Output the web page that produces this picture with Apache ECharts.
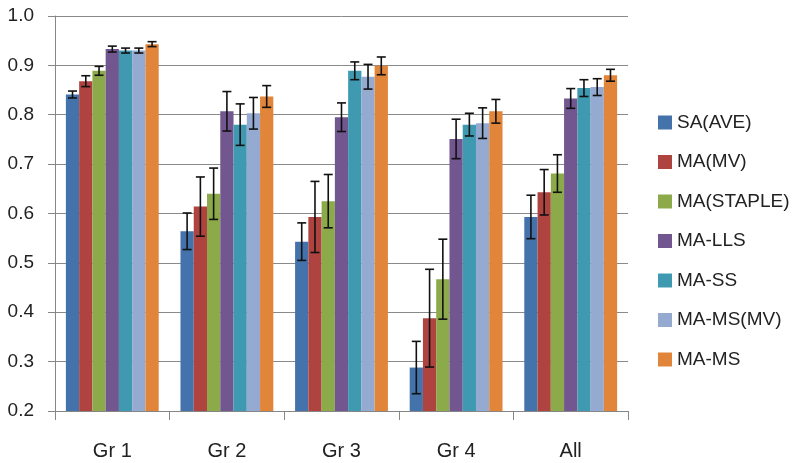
<!DOCTYPE html>
<html><head><meta charset="utf-8">
<script src="https://cdn.jsdelivr.net/npm/echarts@6/dist/echarts.min.js"></script>
<style>html,body{margin:0;padding:0;background:#fff}#c{width:800px;height:463px}</style>
</head><body><div id="c"></div>
<script>
const categories = ['Gr 1', 'Gr 2', 'Gr 3', 'Gr 4', 'All'];
const seriesNames = ['SA(AVE)', 'MA(MV)', 'MA(STAPLE)', 'MA-LLS', 'MA-SS', 'MA-MS(MV)', 'MA-MS'];
const colors = ['#4472AA', '#AE4340', '#8CAA4A', '#72568F', '#3F9AB1', '#94AAD0', '#E0853A'];
const SA_AVE      = [0.841, 0.564, 0.543, 0.288, 0.593];
const MA_MV       = [0.868, 0.614, 0.593, 0.388, 0.643];
const MA_STAPLE   = [0.889, 0.640, 0.625, 0.467, 0.681];
const MA_LLS      = [0.933, 0.807, 0.795, 0.751, 0.833];
const MA_SS       = [0.930, 0.780, 0.889, 0.780, 0.854];
const MA_MS_MV    = [0.930, 0.803, 0.877, 0.783, 0.856];
const MA_MS       = [0.943, 0.837, 0.899, 0.807, 0.880];
const ERR_SA_AVE    = [0.007, 0.037, 0.038, 0.053, 0.044];
const ERR_MA_MV     = [0.011, 0.060, 0.072, 0.099, 0.046];
const ERR_MA_STAPLE = [0.009, 0.052, 0.054, 0.081, 0.038];
const ERR_MA_LLS    = [0.006, 0.040, 0.029, 0.040, 0.020];
const ERR_MA_SS     = [0.005, 0.042, 0.018, 0.023, 0.017];
const ERR_MA_MS_MV  = [0.005, 0.032, 0.025, 0.031, 0.017];
const ERR_MA_MS     = [0.005, 0.022, 0.018, 0.024, 0.012];
const yTicks = [0.2, 0.3, 0.4, 0.5, 0.6, 0.7, 0.8, 0.9, 1.0];

const values = [SA_AVE, MA_MV, MA_STAPLE, MA_LLS, MA_SS, MA_MS_MV, MA_MS];
const errors = [ERR_SA_AVE, ERR_MA_MV, ERR_MA_STAPLE, ERR_MA_LLS, ERR_MA_SS, ERR_MA_MS_MV, ERR_MA_MS];
const GAP = 0.19;
const N = seriesNames.length;
const FONT = '"Liberation Sans", Arial, sans-serif';

const barSeries = seriesNames.map((name, i) => ({
  name, type: 'bar', data: values[i], barGap: 0, barCategoryGap: (GAP*100)+'%',
  itemStyle: {color: colors[i]}, z: 2
}));

const errData = [];
values.forEach((arr, s) => arr.forEach((v, c) => {
  errData.push([c, v - errors[s][c], v + errors[s][c], s]);
}));

const errSeries = {
  type: 'custom', name: 'err', data: errData, z: 5, silent: true,
  encode: {x: 0, y: [1, 2]},
  renderItem(params, api) {
    const c = api.value(0), lo = api.value(1), hi = api.value(2), s = api.value(3);
    const band = api.size([1, 0])[0];
    const bw = band * (1 - GAP) / N;
    const center = api.coord([c, lo]);
    const x = center[0] - band * (1 - GAP) / 2 + bw * (s + 0.5);
    const yLo = center[1], yHi = api.coord([c, hi])[1];
    const cap = 4.5;
    const st = {stroke: '#111', lineWidth: 1.6};
    return {type: 'group', children: [
      {type: 'line', shape: {x1: x, y1: yLo, x2: x, y2: yHi}, style: st},
      {type: 'line', shape: {x1: x - cap, y1: yLo, x2: x + cap, y2: yLo}, style: st},
      {type: 'line', shape: {x1: x - cap, y1: yHi, x2: x + cap, y2: yHi}, style: st}
    ]};
  }
};

const chart = echarts.init(document.getElementById('c'), null, {renderer: 'canvas'});
chart.setOption({
  animation: false,
  grid: {left: 55, right: 172, top: 16, bottom: 52},
  legend: {
    orient: 'vertical', left: 653, top: 108, itemWidth: 14, itemHeight: 14, itemGap: 20.5,
    icon: 'rect', data: seriesNames,
    textStyle: {fontFamily: FONT, fontSize: 19, color: '#222', padding: [0,0,0,0]}
  },
  xAxis: {
    type: 'category', data: categories,
    axisLine: {lineStyle: {color: '#868686', width: 1}},
    axisTick: {show: true, length: 9, lineStyle: {color: '#868686'}},
    axisLabel: {fontFamily: FONT, fontSize: 20, color: '#222', margin: 30}
  },
  yAxis: {
    type: 'value', min: yTicks[0], max: yTicks[yTicks.length-1], interval: 0.1,
    axisLine: {show: true, lineStyle: {color: '#868686'}},
    axisTick: {show: true, length: 7, lineStyle: {color: '#868686'}},
    splitLine: {lineStyle: {color: '#8a8a8a', width: 1}},
    axisLabel: {fontFamily: FONT, fontSize: 19, color: '#222', margin: 21,
      formatter: v => v.toFixed(1)}
  },
  series: [...barSeries, errSeries]
});
</script></body></html>
